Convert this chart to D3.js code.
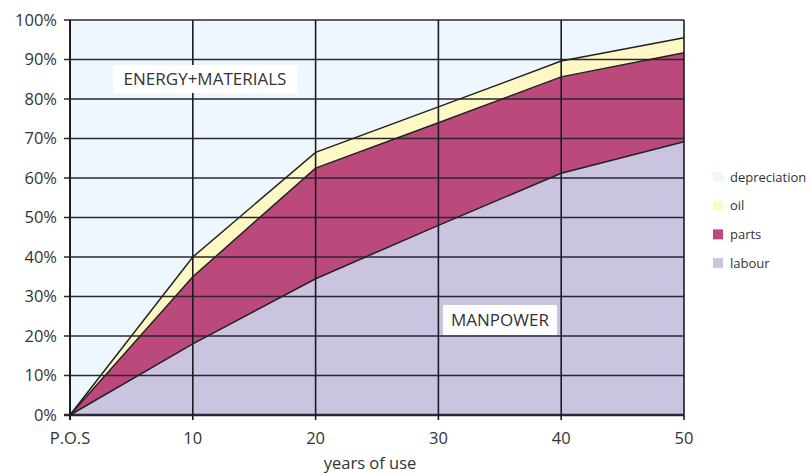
<!DOCTYPE html>
<html><head><meta charset="utf-8">
<script src="https://cdn.jsdelivr.net/npm/d3@7"></script>
<style>body{margin:0;background:#fff;}svg{display:block;font-family:"Open Sans",sans-serif;}</style>
</head><body>
<svg id="c" width="811" height="473"></svg>
<script>
const years = [0, 10, 20, 30, 40, 50];
const xTickLabels = ["P.O.S", "10", "20", "30", "40", "50"];
const labour = [0, 18, 34.5, 48, 61.2, 69.2];
const parts = [0, 17, 28, 26, 24.4, 22.5];
const oil = [0, 5, 4, 4, 4, 3.8];
const depreciation = [0, 60, 33.5, 22, 10.4, 4.5];
const seriesNames = ["labour", "parts", "oil", "depreciation"];
const legendOrder = ["depreciation", "oil", "parts", "labour"];
const colors = {depreciation: "#eef7fd", oil: "#fdf8c4", parts: "#bc497c", labour: "#cac4e1"};
const yTicks = [0,10,20,30,40,50,60,70,80,90,100];

const rows = years.map((y, i) => ({year: y, labour: labour[i], parts: parts[i], oil: oil[i], depreciation: depreciation[i]}));
const svg = d3.select("#c");
const m = {l: 70, r: 684, t: 20, b: 415};
const x = d3.scaleLinear().domain([0, 50]).range([m.l, m.r]);
const y = d3.scaleLinear().domain([0, 100]).range([m.b, m.t]);

svg.append("rect").attr("x", m.l).attr("y", m.t).attr("width", m.r - m.l).attr("height", m.b - m.t).attr("fill", colors.depreciation);

const stack = d3.stack().keys(seriesNames)(rows);
const area = d3.area().x(d => x(d.data.year)).y0(d => y(d[0])).y1(d => y(d[1]));
stack.filter(s => s.key !== "depreciation").forEach(s => {
  svg.append("path").datum(s).attr("d", area).attr("fill", colors[s.key]);
});

const g = svg.append("g");
yTicks.forEach(t => {
  g.append("line").attr("x1", m.l - 6).attr("x2", m.r).attr("y1", y(t)).attr("y2", y(t))
    .attr("stroke", "#2b2630").attr("stroke-width", t === 0 ? 2.5 : 1.5);
});
years.forEach(v => {
  g.append("line").attr("x1", x(v)).attr("x2", x(v)).attr("y1", m.t).attr("y2", m.b + 5)
    .attr("stroke", "#1e1a22").attr("stroke-width", v === 0 ? 2 : 1.6);
});

const line = d3.line().x(d => x(d.data.year)).y(d => y(d[1]));
stack.filter(s => s.key !== "depreciation").forEach(s => {
  svg.append("path").datum(s).attr("d", line).attr("fill", "none").attr("stroke", "#222").attr("stroke-width", 1.5);
});

yTicks.forEach(t => {
  svg.append("text").attr("x", 57).attr("y", y(t)).attr("dy", "0.35em").attr("text-anchor", "end")
    .attr("font-size", 16.5).attr("fill", "#333").text(t + "%");
});
years.forEach((v, i) => {
  svg.append("text").attr("x", x(v)).attr("y", 444).attr("text-anchor", "middle")
    .attr("font-size", 16.5).attr("fill", "#333").text(xTickLabels[i]);
});
svg.append("text").attr("x", 370).attr("y", 469).attr("text-anchor", "middle")
  .attr("font-size", 16.5).attr("fill", "#333").text("years of use");

function box(cx, cy, w, h, txt) {
  svg.append("rect").attr("x", cx - w / 2).attr("y", cy - h / 2).attr("width", w).attr("height", h).attr("fill", "#fff");
  svg.append("text").attr("x", cx).attr("y", cy).attr("dy", "0.36em").attr("text-anchor", "middle")
    .attr("font-size", 17).attr("fill", "#333").text(txt);
}
box(205, 79, 184, 28, "ENERGY+MATERIALS");
box(500, 320, 114, 30, "MANPOWER");

legendOrder.forEach((k, i) => {
  const ly = 177 + i * 28.7;
  svg.append("rect").attr("x", 713).attr("y", ly - 5).attr("width", 10).attr("height", 10).attr("fill", colors[k]);
  svg.append("text").attr("x", 730).attr("y", ly).attr("dy", "0.35em").attr("font-size", 13).attr("fill", "#333").text(k);
});
</script>
</body></html>
